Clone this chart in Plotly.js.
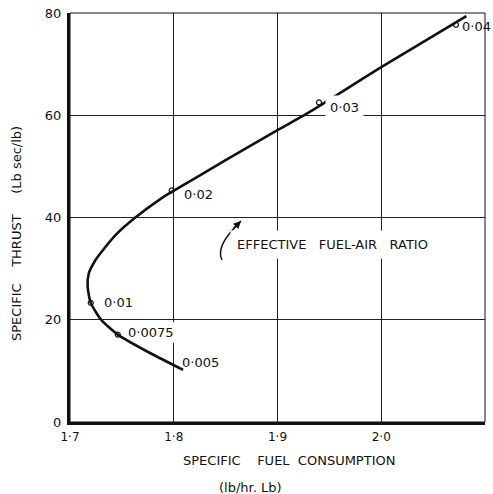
<!DOCTYPE html>
<html>
<head>
<meta charset="utf-8">
<script src="https://cdn.plot.ly/plotly-3.0.1.min.js"></script>
<style>html,body{margin:0;padding:0;background:#fff;}#chart{width:493px;height:494px;}</style>
</head>
<body>
<div id="chart"></div>
<script>
// Curve: specific fuel consumption vs specific thrust
const curveSFC    = [1.809, 1.778, 1.746, 1.730, 1.720, 1.717, 1.718, 1.724, 1.732, 1.745, 1.763, 1.787, 1.798, 1.850, 1.900, 1.929, 2.000, 2.082];
const curveThrust = [10.2, 13.4, 17.1, 20.0, 23.3, 26.5, 29.0, 31.5, 33.7, 36.8, 40.0, 43.6, 45.0, 51.2, 57.1, 60.4, 69.4, 79.4];

// Marked points (effective fuel-air ratio)
const pointSFC    = [2.072, 1.940, 1.798, 1.720, 1.746, 1.809];
const pointThrust = [77.7, 62.5, 45.3, 23.3, 17.1, 10.2];
const pointLabels = ["0·04", "0·03", "0·02", "0·01", "0·0075", "0·005"];
const pointMarked = [true, true, true, true, true, false];

// Axis ticks
const xTickVals = [1.7, 1.8, 1.9, 2.0, 2.1];
const xTickText = ["1·7", "1·8", "1·9", "2·0", "2·1"];
const yTickVals = [0, 20, 40, 60, 80];
const yTickText = ["0", "20", "40", "60", "80"];

const FONT = "DejaVu Sans, sans-serif";
const labelShift = [[4,-2],[6,-5],[10,-4],[11,0],[8,2],[-3,7]];

const traces = [
  {
    x: curveSFC, y: curveThrust, type: "scatter", mode: "lines",
    line: {color: "#111", width: 2.6, shape: "spline", smoothing: 0.6},
    hoverinfo: "skip", showlegend: false
  },
  {
    x: pointSFC.filter((v,i)=>pointMarked[i]),
    y: pointThrust.filter((v,i)=>pointMarked[i]),
    type: "scatter", mode: "markers",
    marker: {symbol: "circle-open", size: 5, color: "#111", line: {width: 1.2, color: "#111"}},
    showlegend: false
  }
];

const annotations = pointLabels.map((t, i) => ({
  x: pointSFC[i], y: pointThrust[i], xref: "x", yref: "y",
  text: t, showarrow: false, xanchor: "left", yanchor: "middle",
  xshift: labelShift[i][0], yshift: labelShift[i][1],
  font: {family: FONT, size: 13, color: "#111"},
  bgcolor: i === 1 ? "#fff" : "rgba(0,0,0,0)", borderpad: i === 1 ? 4 : 1
}));

annotations.push({
  x: 1.864, y: 39.3, xref: "x", yref: "y",
  text: "EFFECTIVE\u00a0\u00a0 FUEL-AIR\u00a0\u00a0 RATIO", showarrow: false,
  xanchor: "left", yanchor: "middle", xshift: -10, yshift: -23,
  font: {family: FONT, size: 13, color: "#111"},
  bgcolor: "#fff", borderpad: 6
});
// arrow head
annotations.push({
  x: 1.8648, y: 39.32, xref: "x", yref: "y", text: "",
  showarrow: true, arrowhead: 2, arrowsize: 1, arrowwidth: 1.5, arrowcolor: "#111",
  ax: -9, ay: 9, standoff: 0
});
// axis titles (pixel positions converted below)
annotations.push({
  x: 289, y: 494 - 460, xref: "paper", yref: "paper", text: "SPECIFIC\u00a0\u00a0\u00a0 FUEL\u00a0 CONSUMPTION",
  showarrow: false, xanchor: "center", yanchor: "middle", font: {family: FONT, size: 13, color: "#111"}
});
annotations.push({
  x: 250, y: 494 - 487, xref: "paper", yref: "paper", text: "(lb/hr. Lb)",
  showarrow: false, xanchor: "center", yanchor: "middle", font: {family: FONT, size: 13, color: "#111"}
});
annotations.push({
  x: 16, y: 494 - 234, xref: "paper", yref: "paper", text: "SPECIFIC\u00a0\u00a0\u00a0 THRUST\u00a0\u00a0\u00a0\u00a0 (Lb sec/lb)",
  showarrow: false, textangle: -90, xanchor: "center", yanchor: "middle", font: {family: FONT, size: 13, color: "#111"}
});

const W = 493, H = 494, mL = 70, mR = 8, mT = 13, mB = 72;
annotations.forEach(a => {
  if (a.xref === "paper") {
    a.x = (a.x - mL) / (W - mL - mR);
    a.y = (a.y - mB) / (H - mT - mB);
  }
});

const layout = {
  width: W, height: H,
  margin: {l: mL, r: mR, t: mT, b: mB, pad: 0},
  paper_bgcolor: "#fff", plot_bgcolor: "#fff",
  font: {family: FONT, size: 12, color: "#111"},
  xaxis: {
    range: [1.7, 2.1], tickvals: xTickVals, ticktext: xTickText,
    showgrid: true, gridcolor: "#222", gridwidth: 1,
    showline: true, linecolor: "#111", linewidth: 3,
    ticks: "", zeroline: false, ticklabelstandoff: 2,
    tickfont: {family: FONT, size: 12, color: "#111"}, fixedrange: true
  },
  yaxis: {
    range: [0, 80], tickvals: yTickVals, ticktext: yTickText,
    showgrid: true, gridcolor: "#222", gridwidth: 1,
    showline: true, linecolor: "#111", linewidth: 3,
    ticks: "", zeroline: false, ticklabelstandoff: 3,
    tickfont: {family: FONT, size: 13, color: "#111"}, fixedrange: true
  },
  shapes: [
    {type: "rect", xref: "paper", yref: "paper", x0: 0, x1: 1, y0: 0, y1: 1,
     line: {color: "#111", width: 1}, layer: "above"},
    {type: "line", xref: "x", yref: "y", x0: 1.8, x1: 1.8, y0: 15.5, y1: 19.5,
     line: {color: "#fff", width: 3}, layer: "above"},
    {type: "path", xref: "x", yref: "y",
     path: "M 1.8465 31.69 C 1.8407 34.03 1.8523 36.77 1.8648 39.32",
     line: {color: "#111", width: 1.5}, layer: "above"}
  ],
  annotations: annotations,
  showlegend: false
};

Plotly.newPlot("chart", traces, layout, {displayModeBar: false, staticPlot: true});
</script>
</body>
</html>
